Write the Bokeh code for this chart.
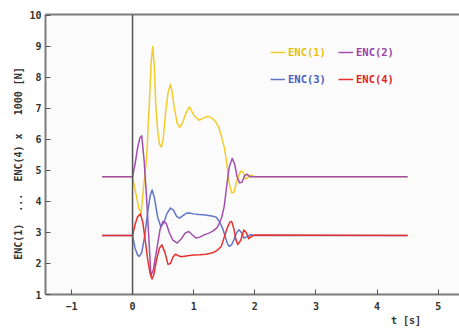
from bokeh.plotting import figure
from bokeh.models import (LinearAxis, Span, Legend, LegendItem,
                          FixedTicker, Range1d, ColumnDataSource)
from bokeh.embed import file_html
from bokeh.resources import INLINE

# ---------------- data ----------------
x_ticks = [-1, 0, 1, 2, 3, 4, 5]
y_ticks = [1, 2, 3, 4, 5, 6, 7, 8, 9, 10]

enc1_t = [-0.5, 0.0, 0.05, 0.10, 0.14, 0.18, 0.23, 0.28, 0.305, 0.33, 0.355, 0.38,
          0.41, 0.44, 0.47, 0.50, 0.54, 0.58, 0.62, 0.65, 0.68, 0.73, 0.775, 0.82,
          0.87, 0.93, 1.0, 1.085, 1.15, 1.23, 1.30, 1.36, 1.41, 1.46, 1.50, 1.54,
          1.58, 1.62, 1.66, 1.71, 1.77, 1.81, 1.85, 1.89, 1.94, 2.0, 4.5]
enc1_v = [4.8, 4.8, 4.3, 3.8, 3.62, 4.45, 5.4, 7.4, 8.5, 9.0, 8.4, 7.1,
          6.3, 5.85, 5.75, 6.0, 6.85, 7.5, 7.78, 7.5, 7.05, 6.52, 6.39, 6.55,
          6.84, 7.05, 6.79, 6.62, 6.68, 6.75, 6.68, 6.57, 6.4, 6.05, 5.75, 5.25,
          4.6, 4.28, 4.3, 4.7, 4.98, 4.95, 4.72, 4.78, 4.85, 4.8, 4.8]

enc2_t = [-0.5, 0.0, 0.04, 0.08, 0.12, 0.15, 0.19, 0.23, 0.27, 0.30, 0.34, 0.40,
          0.45, 0.50, 0.55, 0.60, 0.66, 0.73, 0.80, 0.86, 0.92, 0.98, 1.04, 1.10,
          1.18, 1.25, 1.32, 1.38, 1.42, 1.46, 1.50, 1.54, 1.58, 1.63, 1.67, 1.71,
          1.75, 1.79, 1.83, 1.87, 1.92, 2.0, 4.5]
enc2_v = [4.8, 4.8, 5.2, 5.7, 6.05, 6.12, 5.3, 4.1, 2.7, 1.6, 1.8, 2.5,
          3.1, 3.36, 3.3, 3.0, 2.75, 2.66, 2.8, 2.98, 3.03, 2.92, 2.82, 2.85,
          2.93, 2.98, 3.05, 3.15, 3.3, 3.5, 3.85, 4.5, 5.1, 5.39, 5.2, 4.8,
          4.6, 4.62, 4.82, 4.88, 4.8, 4.8, 4.8]

enc3_t = [-0.5, 0.0, 0.04, 0.08, 0.11, 0.15, 0.20, 0.25, 0.29, 0.32, 0.36, 0.41,
          0.46, 0.51, 0.56, 0.62, 0.67, 0.72, 0.77, 0.83, 0.88, 0.93, 1.0, 1.08,
          1.16, 1.24, 1.32, 1.37, 1.42, 1.47, 1.51, 1.55, 1.58, 1.62, 1.66, 1.70,
          1.74, 1.78, 1.82, 1.87, 1.93, 2.0, 4.5]
enc3_v = [2.9, 2.9, 2.5, 2.28, 2.23, 2.35, 2.9, 3.7, 4.2, 4.37, 4.1, 3.5,
          3.2, 3.3, 3.6, 3.79, 3.72, 3.52, 3.46, 3.55, 3.62, 3.63, 3.6, 3.58,
          3.57, 3.55, 3.52, 3.49, 3.35, 3.15, 2.9, 2.65, 2.55, 2.6, 2.78, 2.98,
          3.09, 3.0, 2.82, 2.86, 2.93, 2.9, 2.9]

enc4_t = [-0.5, 0.0, 0.04, 0.08, 0.13, 0.17, 0.21, 0.25, 0.29, 0.32, 0.35, 0.39,
          0.44, 0.48, 0.53, 0.58, 0.62, 0.66, 0.70, 0.75, 0.80, 0.90, 1.0, 1.1,
          1.2, 1.28, 1.35, 1.40, 1.45, 1.50, 1.55, 1.59, 1.62, 1.66, 1.69, 1.72,
          1.77, 1.82, 1.86, 1.90, 1.95, 2.0, 4.5]
enc4_v = [2.9, 2.9, 3.25, 3.5, 3.6, 3.3, 2.7, 2.1, 1.65, 1.5, 1.65, 2.1,
          2.5, 2.6, 2.35, 1.97, 2.0, 2.2, 2.3, 2.25, 2.22, 2.25, 2.27, 2.28,
          2.3, 2.33, 2.38, 2.45, 2.55, 2.85, 3.15, 3.33, 3.36, 3.1, 2.77, 2.61,
          2.75, 3.08, 3.0, 2.8, 2.88, 2.92, 2.9]

names = ["ENC(1)", "ENC(2)", "ENC(3)", "ENC(4)"]
line_colors = ["#F3CC2C", "#A24EAE", "#6275C9", "#E8312F"]
text_colors = ["#E8BE14", "#9A3FA8", "#4A5CC0", "#E02424"]

NB = "\u00a0"
y_label = ("ENC(1)" + NB * 2 + "..." + NB * 2 + "ENC(4)" + NB + "x" + NB * 3
           + "1000" + NB + "[N]" + NB * 3)
x_label = NB * 51 + "t" + NB + "[s]"

# ---------------- figure ----------------
p = figure(width=459, height=328, output_backend="svg", toolbar_location=None,
           x_range=Range1d(-1.424, 5.348), y_range=Range1d(1.0, 10.03),
           min_border_left=45, min_border_right=0, min_border_top=14,
           min_border_bottom=33)
p.outline_line_color = None
p.grid.visible = False
p.background_fill_color = "#fbfbfb"
p.border_fill_color = "#ffffff"

AX = "#7c7c7c"
TICK_FONT = "DejaVu Sans Mono"

for ax in (p.xaxis[0], p.yaxis[0]):
    ax.axis_line_color = AX
    ax.axis_line_width = 2
    ax.major_tick_line_color = "#555555"
    ax.major_tick_line_width = 1
    ax.major_tick_in = 5
    ax.major_tick_out = 0
    ax.minor_tick_line_color = None
    ax.major_label_text_font = TICK_FONT
    ax.major_label_text_font_style = "bold"
    ax.major_label_text_font_size = "10px"
    ax.major_label_text_color = "#333333"
    ax.axis_label_text_font = TICK_FONT
    ax.axis_label_text_font_style = "bold"
    ax.axis_label_text_font_size = "10px"
    ax.axis_label_text_color = "#333333"

p.xaxis[0].ticker = FixedTicker(ticks=x_ticks)
p.yaxis[0].ticker = FixedTicker(ticks=y_ticks)
p.xaxis[0].major_label_standoff = 7
p.yaxis[0].major_label_standoff = 4
p.xaxis[0].axis_label = x_label
p.xaxis[0].axis_label_standoff = 2
p.yaxis[0].axis_label = y_label
p.yaxis[0].axis_label_standoff = 2

top = LinearAxis(ticker=FixedTicker(ticks=[]), axis_line_color=AX,
                 axis_line_width=2, major_tick_line_color=None,
                 minor_tick_line_color=None, major_label_standoff=0,
                 major_tick_in=0, major_tick_out=0)
p.add_layout(top, "above")

p.add_layout(Span(location=0, dimension="height", line_color="#555555",
                  line_width=1.5))

series = [(enc1_t, enc1_v), (enc2_t, enc2_v), (enc3_t, enc3_v), (enc4_t, enc4_v)]
renderers = {}
for idx in [0, 2, 1, 3]:
    t, v = series[idx]
    src = ColumnDataSource(dict(t=t, v=v))
    renderers[idx] = p.line("t", "v", source=src, line_color=line_colors[idx],
                            line_width=1.5, line_join="round")

# legends: one per entry so each label has its own colour
leg_pos = [(225, 236), (293, 236), (225, 209), (293, 209)]
for i in range(4):
    lg = Legend(items=[LegendItem(label=names[i], renderers=[renderers[i]])],
                location=leg_pos[i], orientation="horizontal",
                padding=0, margin=0, spacing=0, label_standoff=3,
                glyph_width=15, glyph_height=10, label_height=10,
                label_text_font=TICK_FONT, label_text_font_style="bold",
                label_text_font_size="10.5px", label_text_color=text_colors[i],
                background_fill_alpha=0, border_line_color=None)
    p.add_layout(lg)

open("out.html", "w").write(file_html(p, INLINE))
